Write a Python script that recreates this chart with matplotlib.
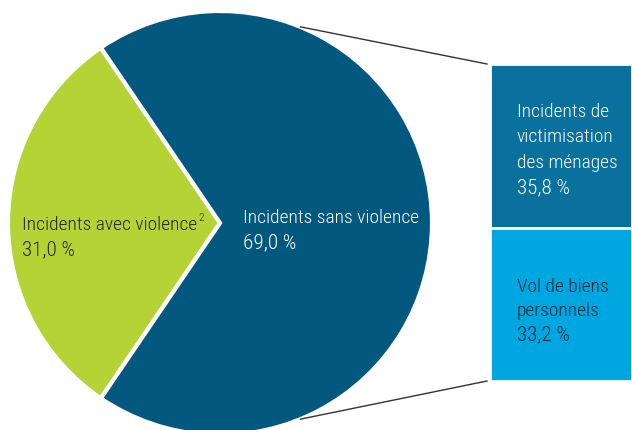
import matplotlib
matplotlib.use("Agg")
import matplotlib.pyplot as plt
import numpy as np

# Pie: violent vs non-violent incidents
pie_labels = ["Incidents avec violence", "Incidents sans violence"]
pie_values = [31.0, 69.0]
pie_colors = ["#b5d334", "#03587f"]

# Breakdown of the non-violent share
bar_labels = ["Incidents de\nvictimisation\ndes ménages", "Vol de biens\npersonnels"]
bar_values = [35.8, 33.2]
bar_colors = ["#0a719f", "#00a6e0"]
bar_text_colors = ["white", "#1d2b3a"]

def fmt(v):
    return ("%.1f" % v).replace(".", ",") + " %"

plt.rcParams['font.family'] = ['Roboto Condensed', 'DejaVu Sans']
plt.rcParams['font.weight'] = 'light'

W, H = 632, 431
fig = plt.figure(figsize=(W/100, H/100), dpi=100)
ax = fig.add_axes([0, 0, 1, 1])

cx, cy, r = 220, 207, 212
start = 180 - pie_values[0] / 100 * 360 / 2
ax.pie(pie_values, colors=pie_colors, startangle=start, counterclock=True,
       center=(cx, cy), radius=r, frame=True,
       wedgeprops=dict(edgecolor="white", linewidth=3))
ax.set_xlim(0, W)
ax.set_ylim(0, H)
ax.set_aspect('equal')
ax.axis('off')

# stacked bar on the right, scaled to the non-violent wedge
bar_bottom, bar_top = 49, 366
scale = (bar_top - bar_bottom) / sum(bar_values)
bx0, bx1 = 490, 632
bottoms = [bar_bottom + bar_values[1] * scale, bar_bottom]
heights = [bar_values[0] * scale, bar_values[1] * scale]
ax.bar((bx0 + bx1) / 2, heights, width=bx1 - bx0, bottom=bottoms,
       color=bar_colors, edgecolor="white", linewidth=2)

# connector lines from the wedge to the bar
ang = np.deg2rad(67.7)
ax.plot([cx + r*np.cos(ang), bx0 - 3], [cy + r*np.sin(ang), bar_top], color="#333333", lw=1)
ax.plot([cx + r*np.cos(-ang), bx0 - 3], [cy + r*np.sin(-ang), bar_bottom], color="#333333", lw=1)

fs = 14

def block(x, y_top, lines, color, step=25.5):
    # one text per line, baselines spaced evenly (pixel units, y from top);
    # the last line holds the percentage, set a little larger
    out = []
    for i, s in enumerate(lines):
        size = fs + 1.2 if i == len(lines) - 1 else fs
        out.append(ax.text(x, H - (y_top + i * step), s, fontsize=size,
                           color=color, va="baseline"))
    return out

green = block(22, 230, [pie_labels[0], fmt(pie_values[0])], "#262626", step=25)
ax.annotate("2", xycoords=green[0], xy=(1, 0.6), xytext=(0.5, 0), textcoords="offset points",
            fontsize=8, color="#262626", va="bottom")
block(243, 223, [pie_labels[1], fmt(pie_values[1])], "white", step=25)

block(517, 117, bar_labels[0].split("\n") + [fmt(bar_values[0])], bar_text_colors[0])
block(517, 292, bar_labels[1].split("\n") + [fmt(bar_values[1])], bar_text_colors[1], step=24)

fig.savefig("out.png", dpi=100)
